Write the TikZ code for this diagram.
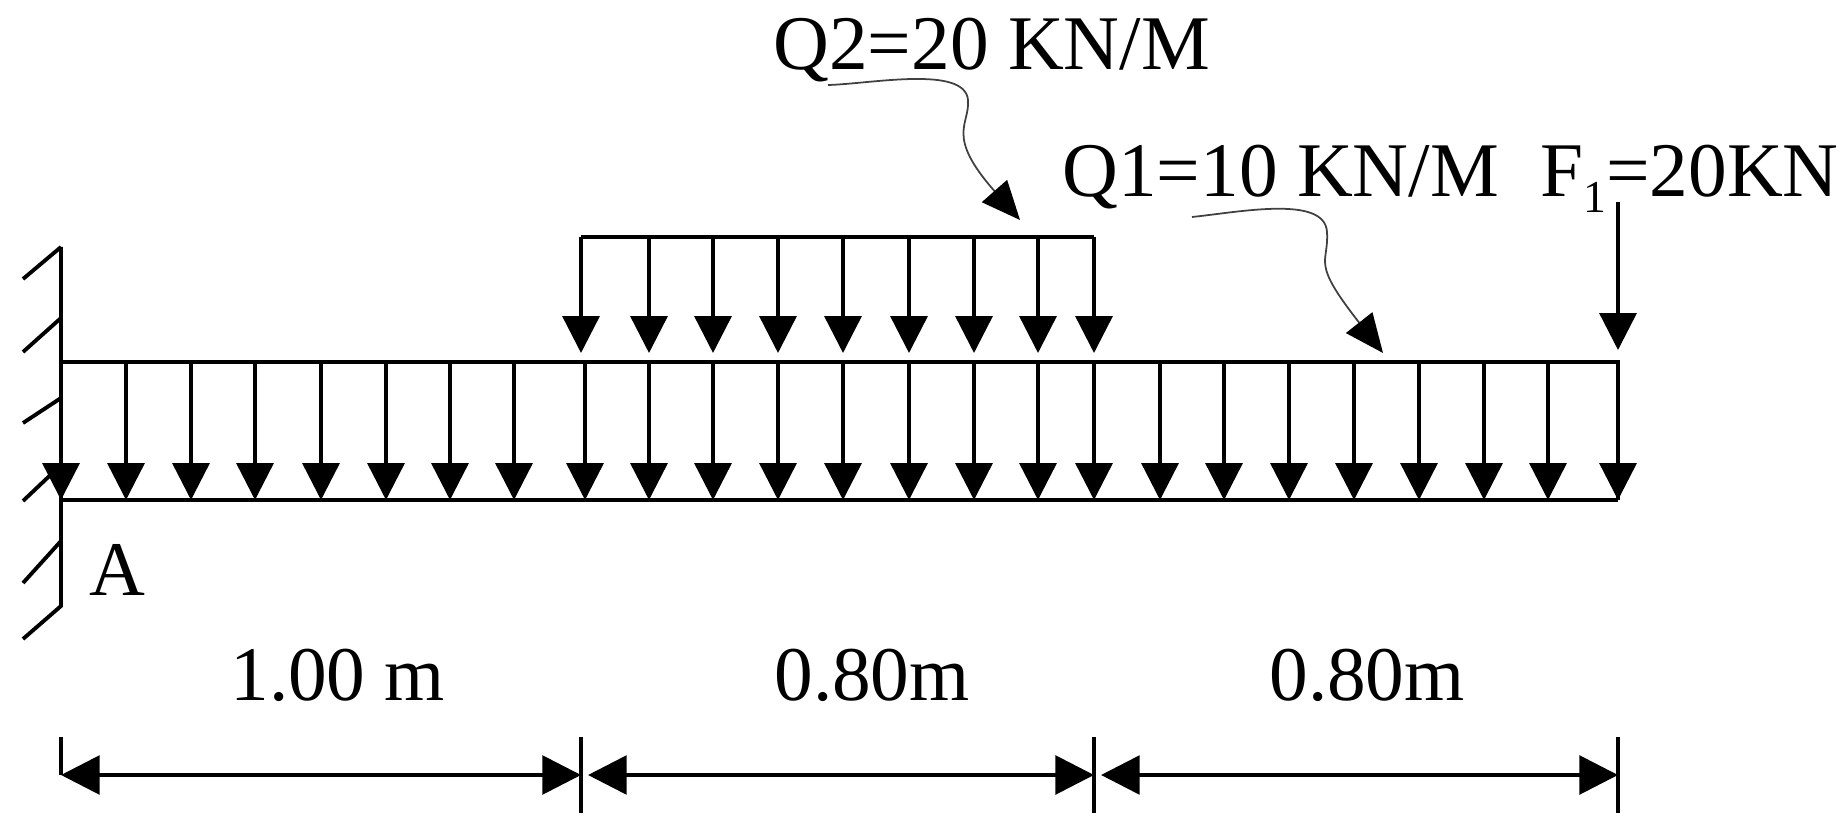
\documentclass[tikz,border=0pt]{standalone}
\usepackage{fontspec}
\setmainfont{Liberation Serif}
\usetikzlibrary{arrows.meta}
\tikzset{
    loadarrow/.style={line width=2pt,-{Triangle[length=21pt,width=21pt]}},
    dimarrow/.style={line width=2.2pt,{Triangle[length=22pt,width=22pt]}-{Triangle[length=22pt,width=22pt]}},
    leader/.style={line width=1pt,black!75,-{Triangle[length=22pt,width=19pt,black]}},
    wallhatch/.style={line width=2.2pt},
    beamline/.style={line width=2.1pt},
    label/.style={inner sep=0pt,anchor=base west,font=\fontsize{44}{50}\selectfont}
}
\begin{document}
\begin{tikzpicture}[x=0.02cm,y=-0.02cm]
    \useasboundingbox (0,0) rectangle (1839,820);

    % Define points
    \coordinate (S0) at (61,362);
    \coordinate (S1) at (126,362);
    \coordinate (S2) at (191,362);
    \coordinate (S3) at (255,362);
    \coordinate (S4) at (321,362);
    \coordinate (S5) at (386,362);
    \coordinate (S6) at (450,362);
    \coordinate (S7) at (514,362);
    \coordinate (S8) at (585,362);
    \coordinate (S9) at (649,362);
    \coordinate (S10) at (713,362);
    \coordinate (S11) at (778,362);
    \coordinate (S12) at (843,362);
    \coordinate (S13) at (909,362);
    \coordinate (S14) at (974,362);
    \coordinate (S15) at (1038,362);
    \coordinate (S16) at (1094,362);
    \coordinate (S17) at (1160,362);
    \coordinate (S18) at (1224,362);
    \coordinate (S19) at (1289,362);
    \coordinate (S20) at (1354,362);
    \coordinate (S21) at (1419,362);
    \coordinate (S22) at (1484,362);
    \coordinate (S23) at (1548,362);
    \coordinate (S24) at (1618,362);
    \coordinate (BL) at (61,500);
    \coordinate (BR) at (1618,500);
    \coordinate (QL) at (581,237);
    \coordinate (QR) at (1094,237);
    \coordinate (QT) at (581,353);
    \coordinate (WT) at (61,247);
    \coordinate (WB) at (61,606);
    \coordinate (DL) at (61,775);
    \coordinate (DA) at (581,775);
    \coordinate (DB) at (1094,775);
    \coordinate (DC) at (1618,775);

    % Wall
    \draw[wallhatch] (WT) -- (WB) -- (23,639);
    \draw[wallhatch] (WT) -- (23,279);
    \draw[wallhatch] (61,318) -- (23,352);
    \draw[wallhatch] (61,398) -- (23,423);
    \draw[wallhatch] (61,465) -- (23,501);
    \draw[wallhatch] (61,541) -- (23,583);

    % Beam
    \draw[beamline] (S0) -- (S24) -- (BR);
    \draw[line width=2.7pt] (BL) -- (BR);

    % Lower load
    \draw[loadarrow] (S0) -- (BL);
    \draw[loadarrow] (S1) -- (S1 |- BL);
    \draw[loadarrow] (S2) -- (S2 |- BL);
    \draw[loadarrow] (S3) -- (S3 |- BL);
    \draw[loadarrow] (S4) -- (S4 |- BL);
    \draw[loadarrow] (S5) -- (S5 |- BL);
    \draw[loadarrow] (S6) -- (S6 |- BL);
    \draw[loadarrow] (S7) -- (S7 |- BL);
    \draw[loadarrow] (S8) -- (S8 |- BL);
    \draw[loadarrow] (S9) -- (S9 |- BL);
    \draw[loadarrow] (S10) -- (S10 |- BL);
    \draw[loadarrow] (S11) -- (S11 |- BL);
    \draw[loadarrow] (S12) -- (S12 |- BL);
    \draw[loadarrow] (S13) -- (S13 |- BL);
    \draw[loadarrow] (S14) -- (S14 |- BL);
    \draw[loadarrow] (S15) -- (S15 |- BL);
    \draw[loadarrow] (S16) -- (S16 |- BL);
    \draw[loadarrow] (S17) -- (S17 |- BL);
    \draw[loadarrow] (S18) -- (S18 |- BL);
    \draw[loadarrow] (S19) -- (S19 |- BL);
    \draw[loadarrow] (S20) -- (S20 |- BL);
    \draw[loadarrow] (S21) -- (S21 |- BL);
    \draw[loadarrow] (S22) -- (S22 |- BL);
    \draw[loadarrow] (S23) -- (S23 |- BL);
    \draw[loadarrow] (S24) -- (BR);

    % Upper load
    \draw[beamline] (QL) -- (QR);
    \draw[loadarrow] (QL) -- (QT);
    \draw[loadarrow] (S9 |- QL) -- (S9 |- QT);
    \draw[loadarrow] (S10 |- QL) -- (S10 |- QT);
    \draw[loadarrow] (S11 |- QL) -- (S11 |- QT);
    \draw[loadarrow] (S12 |- QL) -- (S12 |- QT);
    \draw[loadarrow] (S13 |- QL) -- (S13 |- QT);
    \draw[loadarrow] (S14 |- QL) -- (S14 |- QT);
    \draw[loadarrow] (S15 |- QL) -- (S15 |- QT);
    \draw[loadarrow] (QR) -- (QR |- QT);

    % Point force
    \coordinate (FT) at (1618,202);
    \coordinate (FB) at (1618,350);
    \draw[loadarrow] (FT) -- (FB);

    % Labels
    \node[label] (Q2) at (773,70) {Q2=20 KN/M};
    \node[label] (Q1) at (1062,197) {Q1=10 KN/M};
    \node[label] (F1) at (1540,197) {F\raisebox{-9pt}{\fontsize{26}{30}\selectfont 1}=20KN};
    \node[label] (A) at (89,595) {A};
    \node[label] (L1) at (230,700) {1.00 m};
    \node[label] (L2) at (774,700) {0.80m};
    \node[label] (L3) at (1269,700) {0.80m};

    % Leaders
    \coordinate (Q2a) at (828,85);
    \coordinate (Q2b) at (968,100);
    \coordinate (Q2c) at (1020,220);
    \coordinate (Q1a) at (1192,217);
    \coordinate (Q1b) at (1327,232);
    \coordinate (Q1c) at (1383,353);
    \draw[leader] (Q2a) .. controls (870,84) and (965,65) .. (Q2b) .. controls (970,125) and (945,135) .. (Q2c);
    \draw[leader] (Q1a) .. controls (1240,212) and (1325,195) .. (Q1b) .. controls (1329,265) and (1310,260) .. (Q1c);

    % Dimensions
    \draw[line width=1.9pt] (61,737) -- (DL);
    \draw[line width=1.9pt] (581,737) -- (581,813);
    \draw[line width=1.9pt] (1094,737) -- (1094,813);
    \draw[line width=1.9pt] (1618,737) -- (1618,813);
    \draw[dimarrow] (DL) -- (DA);
    \draw[dimarrow] ([xshift=4pt]DA) -- (DB);
    \draw[dimarrow] ([xshift=4pt]DB) -- (DC);
\end{tikzpicture}
\end{document}
